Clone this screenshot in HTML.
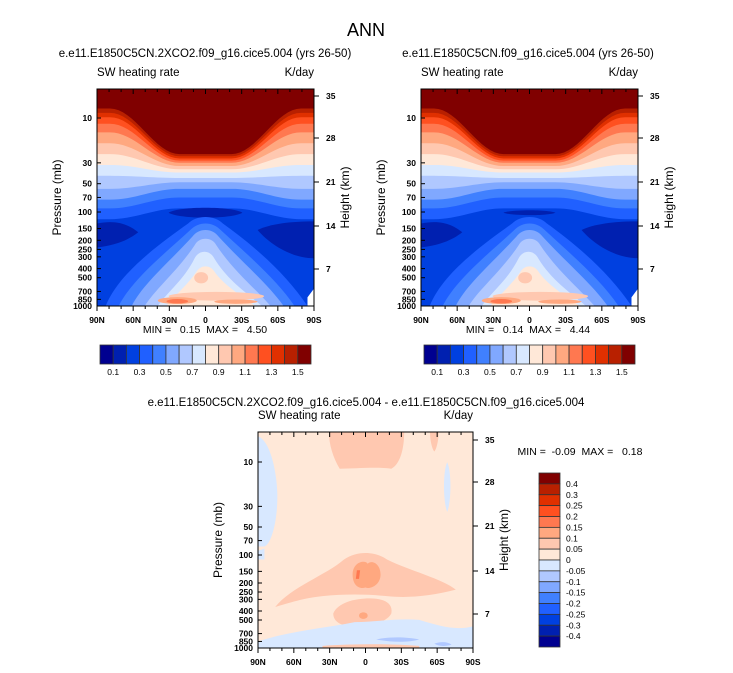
<!DOCTYPE html>
<html><head><meta charset="utf-8"><style>
html,body{margin:0;padding:0;background:#fff;}
svg{display:block;font-family:"Liberation Sans",Arial,sans-serif;}
text{white-space:pre;}
</style></head><body>
<svg id="c" width="733" height="673" viewBox="0 0 733 673" xmlns="http://www.w3.org/2000/svg">
<text x="366" y="36" font-size="18" text-anchor="middle">ANN</text>
</svg>
<script>
const palette=["#000090","#0020b0","#0040e0","#2060ff","#4080ff","#80a8ff","#b0c8ff","#d8e8ff","#ffe8d8","#ffc8b0","#ffa880","#ff7850","#ff5020","#e03000","#b82000","#800000"];
const topLevels=["0.1","0.2","0.3","0.4","0.5","0.6","0.7","0.8","0.9","1.0","1.1","1.2","1.3","1.4","1.5"];
const diffLevels=["0.4","0.3","0.25","0.2","0.15","0.1","0.05","0","-0.05","-0.1","-0.15","-0.2","-0.25","-0.3","-0.4"];
const pressureTicks=[10,30,50,70,100,150,200,250,300,400,500,700,850,1000];
const heightTicks=[35,28,21,14,7];
const latTicks=["90N","60N","30N","0","30S","60S","90S"];
// upper band boundaries: [edge %, centre %] for colours index 3..15
const bandEdge=[60,55,51,46,40,35,30,25,20,16,13,11,9];
const bandCenter=[55,50,46,43,41,38.5,37,35.5,34,33,32,31,30];
const bandColorIdx=[3,4,5,6,7,8,9,10,11,12,13,14,15];

const NS="http://www.w3.org/2000/svg";
const svg=document.getElementById('c');
function el(tag,attrs,parent){const e=document.createElementNS(NS,tag);for(const k in attrs)e.setAttribute(k,attrs[k]);(parent||svg).appendChild(e);return e;}
function txt(x,y,s,size,anchor,parent,extra){const t=el('text',Object.assign({x:x,y:y,'font-size':size,'text-anchor':anchor||'start'},extra||{}),parent);t.textContent=s;return t;}
function bump(x){const d=Math.abs(x-50);if(d<=12)return 1;if(d>=44)return 0;return 0.5+0.5*Math.cos(Math.PI*(d-12)/32);}

function drawPanel(px,py,w,h,y1000,dec,hPos,kind){
  const g=el('g',{transform:`translate(${px},${py}) scale(${w/100},${h/100})`});
  
  
  el('defs',{}).innerHTML=`<clipPath id="clip${px}"><rect x="0" y="0" width="100" height="100"/></clipPath>`;
  g.setAttribute('clip-path',`url(#clip${px})`);
  if(kind!=='diff'){
    el('rect',{x:0,y:0,width:100,height:100,fill:palette[2]},g);
    for(let i=0;i<bandEdge.length;i++){
      let d='M0,0';
      for(let x=0;x<=100;x+=2){d+=` L${x},${(bandEdge[i]+(bandCenter[i]-bandEdge[i])*bump(x)).toFixed(2)}`;}
      d+=' L100,0 Z';
      const p=el('path',{d:d,fill:palette[bandColorIdx[i]]},g);
      
      
    }
    const shapes=[
      [kind==='a'?'M33,57 C38,54 62,54 67,57 C62,60 38,60 33,57 Z':'M38,57 C42,55.5 58,55.5 62,57 C58,58.5 42,58.5 38,57 Z',palette[1]],
      ['M0,62 C10,60 15,63 19,66 C14,70 8,72 0,73 Z',palette[1]],
      ['M100,61 C90,61 80,62 74,65 C80,72 90,78 100,78 Z',palette[1]],
      ['M4,100 C10,85 28,72 42,62 C46,58 54,58 58,62 C72,72 87,85 97,100 Z',palette[3]],
      ['M10,100 C16,88 31,76 43,65 C47,61 53,61 57,65 C69,76 83,88 91,100 Z',palette[4]],
      ['M16,100 C21,90 33,80 44,68 C47,64 53,64 56,68 C67,80 79,90 86,100 Z',palette[5]],
      ['M22,100 C27,92 37,84 45,72 C47,68 53,68 55,72 C63,84 73,92 80,100 Z',palette[6]],
      ['M28,100 C33,93 40,88 45,78 C47,74 52,74 54,78 C60,88 69,94 76,100 Z',palette[7]],
      ['M32,100 C36,95 42,90 46,84 C48,81 52,81 54,84 C58,90 66,95 73,100 Z',palette[8]],
      ['M97,100 L97,96 L100,92 L100,100 Z','#ffffff']
    ];
    shapes.forEach(s=>{const p=el('path',{d:s[0],fill:s[1]},g);});
    el('ellipse',{cx:48,cy:87,rx:3.2,ry:2.6,fill:palette[9]},g);
    el('ellipse',{cx:55,cy:95.5,rx:22,ry:2,fill:palette[9]},g);
    el('ellipse',{cx:37,cy:97.5,rx:9,ry:1.6,fill:palette[10]},g);
    el('ellipse',{cx:37,cy:97.8,rx:5,ry:1,fill:palette[11]},g);
    el('ellipse',{cx:64,cy:98,rx:10,ry:1,fill:palette[10]},g);
  } else {
    el('rect',{x:0,y:0,width:100,height:100,fill:palette[8]},g);
    const shapes=[
      ['M33,0 L68,0 C68,8 66,15 62,17 C55,16 45,17 38,17 C35,12 33,6 33,0 Z',palette[9]],
      ['M80,0 L84,0 C84,4 83,8 82,9 C81,8 80,4 80,0 Z',palette[9]],
      ['M0,2 C6,4 9,20 9,30 C9,42 6,52 3,53 L0,53 Z',palette[7]],
      ['M0,55 L3,54 L3,59 L0,59 Z',palette[7]],
      ['M88,14 C90,18 90,32 88,37 C86,32 86,18 88,14 Z',palette[7]],
      ['M8,81 C15,72 32,66 40,59 C46,55 54,55 60,59 C70,64 86,68 92,73 C80,76 70,77 60,76 C50,75 40,75 30,76 C20,77 12,80 8,81 Z',palette[9]],
      ['M35,84 C37,79 45,77 52,77 C58,77 63,79 62,84 C60,88 52,90 45,90 C39,90 35,88 35,84 Z',palette[9]],
      ['M44,66 C44,60 50,59 51,61 C53,59 57,61 57,66 C57,71 52,73 50,72 C47,73 44,71 44,66 Z',palette[10]],
      ['M46,64 L47.5,64 L47,68 L45.5,68 Z',palette[11]],
      ['M47,85 C47,83 51,83 51,85 C51,87 47,87 47,85 Z',palette[10]],
      ['M0,97 C15,92 30,91 45,88 C55,88 65,86 75,87 C85,90 92,92 100,90 L100,100 L0,100 Z',palette[7]],
      ['M55,96 C62,94.5 70,95 75,96 C70,97.5 62,97.5 55,96 Z',palette[6]],
      ['M82,98 C85,97 88,97 90,98.5 C87,99.3 84,99.3 82,98 Z',palette[6]],
      ['M30,99 C45,98 60,98 75,99 L75,100 L30,100 Z',palette[9]]
    ];
    shapes.forEach(s=>{const p=el('path',{d:s[0],fill:s[1]},g);});
  }
  const f=el('rect',{x:px,y:py,width:w,height:h,fill:'none',stroke:'#000','stroke-width':1});
  
  pressureTicks.forEach(p=>{
    const y=y1000-Math.log10(1000/p)*dec;
    el('line',{x1:px,x2:px+4,y1:y,y2:y,stroke:'#000','stroke-width':1});
    const t=txt(px-5,y+3,String(p),8.5,'end',null,{'font-weight':'bold'});
    
  });
  heightTicks.forEach((k,i)=>{
    const y=hPos[i];
    el('line',{x1:px+w,x2:px+w+5,y1:y,y2:y,stroke:'#000','stroke-width':1});
    const t=txt(px+w+12,y+3,String(k),8.5,'start',null,{'font-weight':'bold'});
    
  });
  for(let i=0;i<=18;i++){
    const x=px+w*i/18;const maj=i%3===0;
    el('line',{x1:x,x2:x,y1:py+h,y2:py+h+(maj?5:3),stroke:'#000','stroke-width':1});
    el('line',{x1:x,x2:x,y1:py,y2:py+(maj?5:3),stroke:'#000','stroke-width':1});
  }
  latTicks.forEach((l,i)=>{
    const t=txt(px+w*i/6,py+h+17,l,8.5,'middle',null,{'font-weight':'bold'});
    
  });
  const a=txt(px,py-13,'SW heating rate',11.5,'start');
  const b=txt(px+w,py-13,'K/day',11.5,'end');
  const yt=txt(0,0,'Pressure (mb)',12,'middle',null,{transform:`translate(${px-36},${py+h/2}) rotate(-90)`});
  
  const ht=txt(0,0,'Height (km)',12,'middle',null,{transform:`translate(${px+w+35},${py+h/2}) rotate(-90)`});
  
}
function hColorbar(x,y,w,h){
  const bw=w/16;
  palette.forEach((c,i)=>{const r=el('rect',{x:x+i*bw,y:y,width:bw,height:h,fill:c,stroke:'#333','stroke-width':0.8});});
  topLevels.forEach((l,i)=>{if(i%2===0){const t=txt(x+(i+1)*bw,y+h+11,l,8.5,'middle');}});
}
drawPanel(97,89,217,217,306,94,[96,138,182,226,269],'a');
drawPanel(421,89,217,217,306,94,[96,138,182,226,269],'b');
drawPanel(258,432,215,216,648,93,[440,482,526,571,614],'diff');
hColorbar(100,345,211,19);
hColorbar(424,345,211,19);
(function(){const x=539,y=473,w=21,h=174,bh=h/16;
  palette.slice().reverse().forEach((c,i)=>{const r=el('rect',{x:x,y:y+i*bh,width:w,height:bh,fill:c,stroke:'#333','stroke-width':0.8});});
  diffLevels.forEach((l,i)=>{const t=txt(x+27,y+(i+1)*bh+3,l,8.5,'start');});
})();
[[205,57,'e.e11.E1850C5CN.2XCO2.f09_g16.cice5.004 (yrs 26-50)','left-panel-title'],
 [528,57,'e.e11.E1850C5CN.f09_g16.cice5.004 (yrs 26-50)','right-panel-title'],
 [366,406,'e.e11.E1850C5CN.2XCO2.f09_g16.cice5.004 - e.e11.E1850C5CN.f09_g16.cice5.004','diff-panel-title']
].forEach(a=>{const t=txt(a[0],a[1],a[2],11.5,'middle');});
[[205,333,'MIN =   0.15  MAX =   4.50','left-minmax'],[528,333,'MIN =   0.14  MAX =   4.44','right-minmax'],[580,455,'MIN =  -0.09  MAX =   0.18','diff-minmax']].forEach(a=>{const t=txt(a[0],a[1],a[2],10.5,'middle');});
</script>
</body></html>
